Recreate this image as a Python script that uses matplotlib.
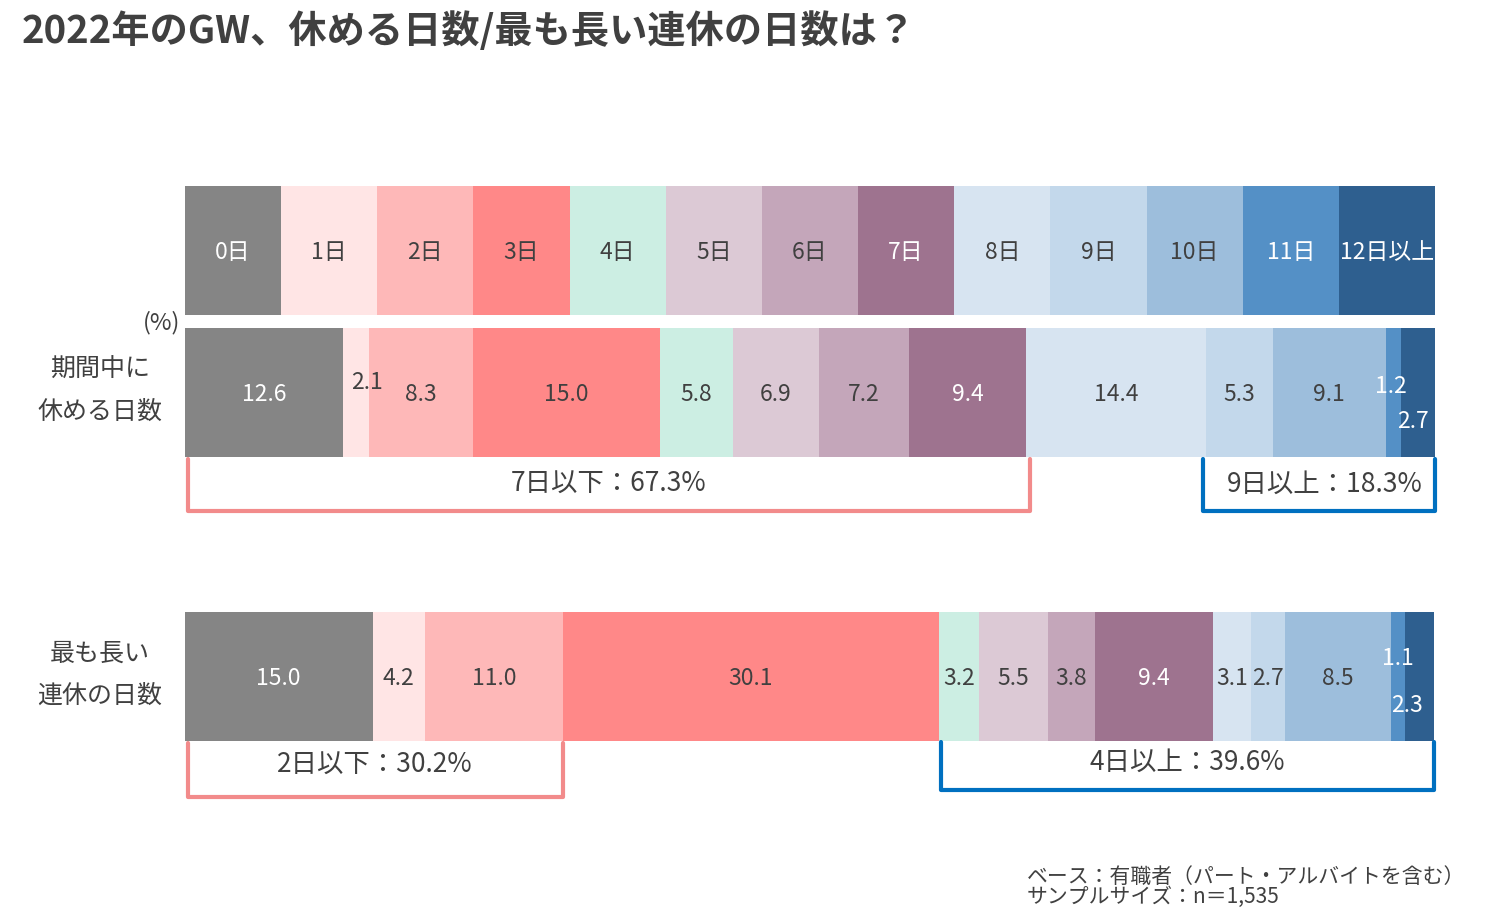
import matplotlib
matplotlib.use("Agg")
import matplotlib.pyplot as plt

plt.rcParams['font.family'] = ['Noto Sans CJK JP', 'DejaVu Sans']

# data
categories = ['0日', '1日', '2日', '3日', '4日', '5日', '6日', '7日',
              '8日', '9日', '10日', '11日', '12日以上']
rest_days = [12.6, 2.1, 8.3, 15.0, 5.8, 6.9, 7.2, 9.4, 14.4, 5.3, 9.1, 1.2, 2.7]
longest = [15.0, 4.2, 11.0, 30.1, 3.2, 5.5, 3.8, 9.4, 3.1, 2.7, 8.5, 1.1, 2.3]
row_labels = ['期間中に\n休める日数', '最も長い\n連休の日数']
groups_rest = [('7日以下：67.3%', 0, 67.3), ('9日以上：18.3%', 81.7, 100.0)]
groups_long = [('2日以下：30.2%', 0, 30.2), ('4日以上：39.6%', 60.3, 100.0)]

colors = ['#858585', '#FFE5E5', '#FEB8B8', '#FF8888', '#CCEEE3', '#DCC9D5',
          '#C4A6BA', '#9E738F', '#D7E4F1', '#C3D8EB', '#9DBEDC', '#5490C6',
          '#2E5F8F']
white_idx = {0, 7, 11, 12}
DARK = '#404040'

W, H = 1509, 924
fig = plt.figure(figsize=(W / 100, H / 100), dpi=100)
ax = fig.add_axes([185 / W, 0, 1250 / W, 1])
ax.set_xlim(0, 100)
ax.set_ylim(H, 0)
ax.axis('off')

bar_h = 129
y_leg, y_rest, y_long = 250.5, 392.5, 676.5
tdy = 2  # small baseline correction for CJK font

# legend row
n = len(categories)
seg = 100 / n
for i, c in enumerate(categories):
    ax.barh(y_leg, seg, left=i * seg, height=bar_h, color=colors[i], linewidth=0)
    ax.text(i * seg + seg / 2, y_leg + tdy, c, ha='center', va='center',
            fontsize=16.5, color='white' if i in white_idx else DARK)


def stacked(vals, y, offsets):
    left = 0
    for i, v in enumerate(vals):
        ax.barh(y, v, left=left, height=bar_h, color=colors[i], linewidth=0)
        dx, dy = offsets.get(i, (0, 0))
        ax.text(left + v / 2 + dx, y + dy + tdy, f'{v:.1f}', ha='center',
                va='center', fontsize=16.5,
                color='white' if i in white_idx else DARK)
        left += v


stacked(rest_days, y_rest, {1: (0.9, -12), 11: (-0.2, -8), 12: (-0.4, 27)})
stacked(longest, y_long, {11: (0.0, -20), 12: (-1.0, 27)})


def bracket(x0, x1, top, bot, color, label, ty, tx=0):
    ax.plot([x0, x0, x1, x1], [top, bot, bot, top], color=color, lw=3,
            solid_joinstyle='round', solid_capstyle='round', clip_on=False)
    ax.text((x0 + x1) / 2 + tx, ty + tdy, label, ha='center', va='center',
            fontsize=19, color=DARK)


pink, blue = '#F28B8B', '#0070C0'
(l1, a1, b1), (l2, a2, b2) = groups_rest
bracket(a1 + 0.2, b1 + 0.3, 459, 511, pink, l1, 482)
bracket(a2 - 0.3, b2, 459, 511, blue, l2, 482, tx=0.5)
(l3, a3, b3), (l4, a4, b4) = groups_long
bracket(a3 + 0.2, b3, 743, 797, pink, l3, 763)
bracket(a4 + 0.2, b4 - 0.1, 742, 790, blue, l4, 760)

# row labels
for lab, y in zip(row_labels, [y_rest, y_long]):
    fig.text(100 / W, 1 - (y - 2) / H, lab, ha='center', va='center', fontsize=18,
             color=DARK, linespacing=1.8)
fig.text(180 / W, 1 - 323 / H, '(%)', ha='right', va='center', fontsize=17,
         color=DARK)

fig.text(22 / W, 1 - 31 / H, '2022年のGW、休める日数/最も長い連休の日数は？',
         ha='left', va='center', fontsize=27.5, fontweight='bold', color=DARK)
fig.text(1027 / W, 1 - 887 / H,
         'ベース：有職者（パート・アルバイトを含む）\nサンプルサイズ：n＝1,535',
         ha='left', va='center', fontsize=15, color=DARK, linespacing=0.9)

fig.savefig('out.png', dpi=100, facecolor='white')
